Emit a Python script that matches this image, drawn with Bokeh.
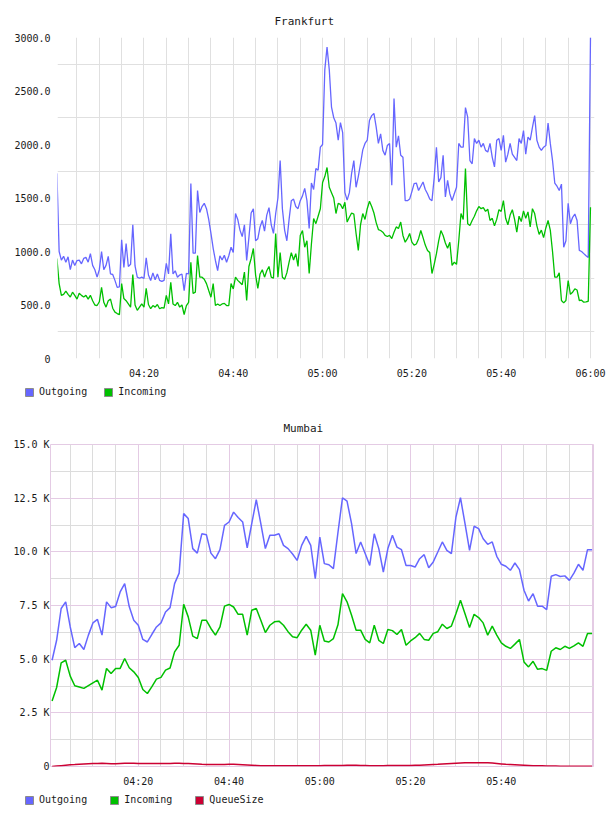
import numpy as np
from bokeh.plotting import figure
from bokeh.models import FixedTicker, Legend, LegendItem, Range1d
from bokeh.embed import file_html
from bokeh.resources import INLINE

FONT = "DejaVu Sans Mono"
TEXT_COLOR = "#1a1a1a"

OUT_COLOR = "#6666ff"
IN_COLOR = "#00c000"
QUEUE_COLOR = "#cc0033"

# ---------------- Frankfurt: 30 s samples ----------------
fra_start = "04:00:30"
fra_step_s = 30
fra_outgoing = [
    1730, 1000, 920, 955, 900, 950, 830, 920, 870, 915,
    920, 885, 935, 945, 900, 980, 870, 830, 760, 830,
    1000, 830, 870, 955, 790, 785, 730, 665, 670, 1110,
    850, 1075, 860, 880, 1250, 865, 760, 750, 760, 748,
    940, 780, 729, 800, 735, 790, 730, 720, 730, 890,
    790, 1165, 790, 820, 760, 780, 790, 635, 795, 790,
    1635, 985, 985, 1570, 1365, 1420, 1450, 1400, 1300, 1170,
    1030, 916, 822, 960, 920, 965, 900, 960, 1040, 990,
    1355, 1300, 1200, 1140, 1250, 916, 1130, 1360, 1400, 1100,
    1120, 1230, 1290, 1190, 1340, 1410, 1250, 1170, 1355, 1500,
    1850, 1400, 1200, 1100, 1300, 1475, 1490, 1420, 1400, 1475,
    1520, 1590, 1475, 1215, 1640, 1580, 1775, 1760, 1975, 2000,
    2700, 2910, 2700, 2350, 2250, 2200, 2040, 2205, 2110, 1550,
    1480, 1550, 1730, 1850, 1600, 1700, 1820, 1950, 2010, 2040,
    2225, 2270, 2290, 2165, 2010, 2100, 1945, 1900, 1990, 2010,
    1620, 2430, 1975, 2080, 1900, 1880, 1475, 1475, 1490, 1560,
    1635, 1640, 1570, 1610, 1650, 1580, 1540, 1490, 1475, 1690,
    1975, 1650, 1690, 1900, 1510, 1665, 1540, 1475, 1540, 1600,
    2010, 1975, 1975, 2345, 2255, 1850, 1820, 2055, 2010, 2040,
    1975, 2010, 1945, 1930, 2010, 1880, 1790, 2040, 2055, 1945,
    2085, 1835, 1910, 2010, 1910, 1880, 1850, 2055, 2010, 2130,
    1910, 2070, 2040, 2160, 2270, 2040, 1975, 1945, 1975, 1990,
    2200, 2010, 1850, 1640, 1610, 1570, 1630, 1040, 1100, 1450,
    1260, 1320, 1350, 1290, 1010, 1000, 980, 960, 945, 3000,
]
fra_incoming = [
    935, 700, 590, 600, 630, 600, 575, 620, 590, 555,
    610, 590, 575, 590, 555, 590, 540, 500, 495, 530,
    665, 525, 480, 540, 555, 470, 433, 420, 410, 700,
    560, 540, 510, 480, 785, 500, 450, 480, 510, 480,
    655, 505, 465, 495, 480, 505, 465, 475, 470, 590,
    510, 713, 510, 495, 525, 480, 500, 411, 495, 525,
    900, 607, 620, 963, 760, 760, 740, 700, 635, 573,
    700, 495, 510, 495, 510, 515, 495, 495, 700, 650,
    760, 730, 710, 690, 807, 542, 860, 935, 1028, 780,
    655, 790, 830, 760, 820, 860, 760, 750, 1168, 760,
    990, 760, 740, 800, 900, 990, 920, 980, 860, 1150,
    1196, 1040, 1100, 794, 1070, 1308, 1260, 1330, 1400, 1645,
    1700, 1785, 1600, 1550, 1500, 1355, 1450, 1440, 1400, 1460,
    1275, 1320, 1360, 1350, 1168, 1010, 1250, 1355, 1300, 1400,
    1470, 1420, 1360, 1270, 1205, 1196, 1180, 1150, 1140, 1150,
    1120, 1180, 1230, 1215, 1275, 1150, 1087, 1120, 1168, 1087,
    1060, 1070, 1120, 1196, 1130, 1060, 1010, 990, 794, 880,
    980, 1100, 1196, 1150, 1080, 1030, 1087, 870, 900, 880,
    1100, 1355, 1300, 1775, 1260, 1243, 1290, 1330, 1380, 1420,
    1400, 1410, 1375, 1395, 1290, 1310, 1240, 1300, 1390, 1375,
    1475, 1310, 1250, 1340, 1390, 1300, 1180, 1330, 1280, 1380,
    1310, 1370, 1230, 1400, 1355, 1240, 1160, 1200, 1130, 1220,
    1290, 1200, 1000, 760, 760, 800, 542, 520, 542, 729,
    600, 620, 650, 640, 542, 545, 526, 530, 535, 1414,
]
fra_x_labels = ["04:20", "04:40", "05:00", "05:20", "05:40", "06:00"]
fra_y_ticks = [0, 500, 1000, 1500, 2000, 2500, 3000]
fra_y_labels = ["0", "500.0", "1000.0", "1500.0", "2000.0", "2500.0", "3000.0"]
fra_y_grid = [250, 750, 1250, 1750, 2250, 2750]

# ---------------- Mumbai: 1 min samples, values in thousands ----------------
mum_start = "04:01:00"
mum_step_s = 60
mum_outgoing = [
    4.95, 5.88, 7.36, 7.67, 6.5, 5.54, 5.73, 5.45, 6.12, 6.69,
    6.85, 6.12, 7.67, 7.4, 7.45, 8.13, 8.52, 7.45, 6.81, 6.58,
    5.92, 5.8, 6.16, 6.5, 6.69, 7.2, 7.4, 8.52, 9.01, 11.78,
    11.55, 10.15, 9.94, 10.84, 10.8, 9.94, 9.68, 10.1, 11.23, 11.39,
    11.85, 11.6, 11.39, 10.19, 11.31, 12.43, 11.31, 10.15, 10.77, 10.77,
    10.84, 10.3, 10.15, 9.9, 9.6, 10.3, 10.72, 10.3, 8.75, 10.69,
    9.45, 9.4, 9.22, 10.9, 12.52, 12.36, 11.31, 9.92, 10.46, 9.92,
    9.37, 10.84, 10.15, 9.06, 10.15, 10.77, 10.22, 10.1, 9.36, 9.36,
    9.29, 9.68, 9.87, 9.26, 9.53, 9.99, 10.46, 10.07, 9.92, 11.62,
    12.52, 11.31, 10.07, 11.19, 11.08, 10.61, 10.35, 10.46, 9.79, 9.42,
    9.33, 9.14, 9.48, 9.17, 8.21, 7.71, 8.05, 7.47, 7.47, 7.31,
    8.86, 8.94, 8.85, 8.88, 8.67, 9.01, 9.42, 9.14, 10.1, 10.1,
]
mum_incoming = [
    3.05, 3.68, 4.83, 4.95, 4.21, 3.76, 3.7, 3.64, 3.77, 3.9,
    4.02, 3.56, 4.57, 4.33, 4.57, 4.57, 5.03, 4.6, 4.41, 4.15,
    3.59, 3.4, 3.72, 4.07, 4.15, 4.49, 4.59, 5.34, 5.65, 7.56,
    6.97, 6.07, 5.96, 6.81, 6.81, 6.43, 6.12, 6.5, 7.47, 7.55,
    7.43, 7.09, 7.09, 6.12, 7.28, 7.36, 6.81, 6.24, 6.58, 6.74,
    6.77, 6.58, 6.28, 6.04, 6.0, 6.35, 6.63, 6.35, 5.19, 6.58,
    5.85, 5.8, 5.96, 6.6, 8.05, 7.67, 7.05, 6.35, 6.35, 5.92,
    5.76, 6.58, 5.88, 5.73, 6.38, 6.33, 6.15, 6.38, 5.65, 5.85,
    6.0, 6.2, 5.92, 5.88, 6.2, 6.28, 6.63, 6.43, 6.54, 7.12,
    7.74, 7.12, 6.47, 7.09, 6.94, 6.69, 6.12, 6.54, 6.12, 5.76,
    5.6, 5.5, 5.7, 5.92, 4.87, 4.64, 4.9, 4.53, 4.56, 4.48,
    5.37, 5.53, 5.45, 5.6, 5.5, 5.62, 5.76, 5.6, 6.2, 6.2,
]
mum_queue = [
    0.0, 0.02, 0.04, 0.06, 0.08, 0.09, 0.11, 0.12, 0.13, 0.14,
    0.14, 0.15, 0.14, 0.13, 0.13, 0.14, 0.15, 0.15, 0.15, 0.14,
    0.14, 0.14, 0.14, 0.14, 0.14, 0.14, 0.14, 0.15, 0.15, 0.14,
    0.14, 0.13, 0.12, 0.1, 0.09, 0.09, 0.09, 0.09, 0.09, 0.1,
    0.1, 0.09, 0.08, 0.07, 0.06, 0.05, 0.04, 0.04, 0.04, 0.04,
    0.04, 0.03, 0.03, 0.03, 0.03, 0.03, 0.03, 0.03, 0.04, 0.04,
    0.05, 0.05, 0.05, 0.05, 0.05, 0.06, 0.06, 0.06, 0.05, 0.05,
    0.04, 0.04, 0.04, 0.04, 0.05, 0.05, 0.05, 0.05, 0.05, 0.05,
    0.06, 0.06, 0.07, 0.08, 0.09, 0.1, 0.12, 0.13, 0.14, 0.15,
    0.16, 0.17, 0.17, 0.18, 0.18, 0.18, 0.17, 0.16, 0.14, 0.12,
    0.1, 0.09, 0.08, 0.07, 0.06, 0.05, 0.04, 0.03, 0.03, 0.02,
    0.02, 0.02, 0.01, 0.01, 0.01, 0.01, 0.01, 0.01, 0.01, 0.01,
]
mum_x_labels = ["04:20", "04:40", "05:00", "05:20", "05:40"]
mum_y_ticks = [0, 2.5, 5, 7.5, 10, 12.5, 15]
mum_y_labels = ["0", "2.5 K", "5.0 K", "7.5 K", "10.0 K", "12.5 K", "15.0 K"]
mum_y_minor = [1.25, 3.75, 6.25, 8.75, 11.25, 13.75]


def minutes(hms):
    """'HH:MM[:SS]' -> minutes since midnight."""
    parts = [int(v) for v in hms.split(":")]
    while len(parts) < 3:
        parts.append(0)
    return parts[0] * 60 + parts[1] + parts[2] / 60.0


def sample_times(start, step_s, n):
    return minutes(start) + np.arange(n) * step_s / 60.0


def style_axes(p, x_labels, y_ticks, y_labels, y_standoff):
    x_ticks = [minutes(t) for t in x_labels]
    p.xaxis.ticker = FixedTicker(ticks=x_ticks)
    p.xaxis.major_label_overrides = {t: s for t, s in zip(x_ticks, x_labels)}
    p.yaxis.ticker = FixedTicker(ticks=y_ticks)
    p.yaxis.major_label_overrides = {t: s for t, s in zip(y_ticks, y_labels)}
    for ax in (p.xaxis[0], p.yaxis[0]):
        ax.axis_line_color = None
        ax.major_tick_line_color = None
        ax.minor_tick_line_color = None
        ax.major_tick_out = 0
        ax.major_tick_in = 0
        ax.major_label_text_font = FONT
        ax.major_label_text_font_size = "10px"
        ax.major_label_text_color = TEXT_COLOR
    p.xaxis.major_label_standoff = 9
    p.yaxis.major_label_standoff = y_standoff


def legend_strip(entries, spacing):
    """A narrow, axis-free figure that only holds a horizontal legend."""
    f = figure(width=608, height=24, x_range=Range1d(0, 1), y_range=Range1d(0, 1),
               x_axis_location=None, y_axis_location=None, min_border=0,
               output_backend="svg", toolbar_location=None,
               background_fill_color="white", border_fill_color="white")
    f.outline_line_color = None
    f.grid.visible = False
    items = []
    for name, color in entries:
        sw = f.quad(left=[np.nan], right=[np.nan], top=[np.nan], bottom=[np.nan],
                    fill_color=color, line_color="#8c8c8c", line_width=1)
        items.append(LegendItem(label=name, renderers=[sw]))
    leg = Legend(items=items, orientation="horizontal", location=(24, 11),
                 glyph_width=10, glyph_height=10, label_standoff=5,
                 spacing=spacing, padding=0, margin=0, label_height=10,
                 border_line_color=None, background_fill_alpha=0,
                 label_text_font=FONT, label_text_font_size="10px",
                 label_text_color=TEXT_COLOR)
    f.add_layout(leg)
    return f


def base_figure(title, title_offset, x0, x1, y1, fw, fh, left, right, top, bottom):
    p = figure(frame_width=fw, frame_height=fh,
               x_range=Range1d(x0, x1), y_range=Range1d(0, y1),
               min_border_left=left, min_border_right=right,
               min_border_top=top, min_border_bottom=bottom,
               output_backend="svg", toolbar_location=None,
               background_fill_color="white", border_fill_color="white")
    p.title.text = title
    p.title.align = "left"
    p.title.offset = title_offset
    p.title.text_font = FONT
    p.title.text_font_size = "11px"
    p.title.text_font_style = "normal"
    p.title.text_color = TEXT_COLOR
    p.title.standoff = 19
    return p


# ---------------- Frankfurt chart ----------------
fra_t = sample_times(fra_start, fra_step_s, len(fra_outgoing))
p1 = base_figure("Frankfurt", 217, minutes("04:00:38"), minutes("06:00:54"), 3000,
                 537, 321, 57, 14, 37, 26)
p1.outline_line_color = None
style_axes(p1, fra_x_labels, fra_y_ticks, fra_y_labels, 7)
p1.xgrid.ticker = FixedTicker(ticks=list(np.arange(minutes("04:05"), minutes("06:00") + 1, 5)))
p1.ygrid.ticker = FixedTicker(ticks=fra_y_grid)
for g in (p1.xgrid[0], p1.ygrid[0]):
    g.grid_line_color = "#e0e0e0"
    g.grid_line_width = 1

p1.line(fra_t, fra_outgoing, line_color=OUT_COLOR, line_width=1.3)
p1.line(sample_times(fra_start, fra_step_s, len(fra_incoming)), fra_incoming,
        line_color=IN_COLOR, line_width=1.3)
leg1 = legend_strip([("Outgoing", OUT_COLOR), ("Incoming", IN_COLOR)], 16)

# ---------------- Mumbai chart ----------------
MAJOR_GRID = "#e4cbe4"
MINOR_GRID = "#dcdcdc"
p2 = base_figure("Mumbai", 233, minutes("04:00:39"), minutes("06:00:19"), 15,
                 543, 322, 50, 15, 36, 26)
p2.outline_line_color = MAJOR_GRID
style_axes(p2, mum_x_labels, mum_y_ticks, mum_y_labels, 1)
x_major = [minutes(t) for t in ["04:20", "04:40", "05:00", "05:20", "05:40", "06:00"]]
x_minor = [m for m in np.arange(minutes("04:05"), minutes("06:00"), 5) if m not in x_major]
p2.xgrid.ticker = FixedTicker(ticks=x_major, minor_ticks=x_minor)
p2.ygrid.ticker = FixedTicker(ticks=mum_y_ticks, minor_ticks=mum_y_minor)
for g in (p2.xgrid[0], p2.ygrid[0]):
    g.grid_line_color = MAJOR_GRID
    g.minor_grid_line_color = MINOR_GRID
    g.grid_line_width = 1

mum_t = sample_times(mum_start, mum_step_s, len(mum_outgoing))
p2.line(mum_t, mum_outgoing, line_color=OUT_COLOR, line_width=1.5)
p2.line(sample_times(mum_start, mum_step_s, len(mum_incoming)), mum_incoming,
        line_color=IN_COLOR, line_width=1.5)
p2.line(sample_times(mum_start, mum_step_s, len(mum_queue)), mum_queue,
        line_color=QUEUE_COLOR, line_width=1.5)
leg2 = legend_strip([("Outgoing", OUT_COLOR), ("Incoming", IN_COLOR), ("QueueSize", QUEUE_COLOR)], 22)

# separate roots stack vertically and keep their own frame geometry
open("out.html", "w").write(file_html([p1, leg1, p2, leg2], INLINE))
